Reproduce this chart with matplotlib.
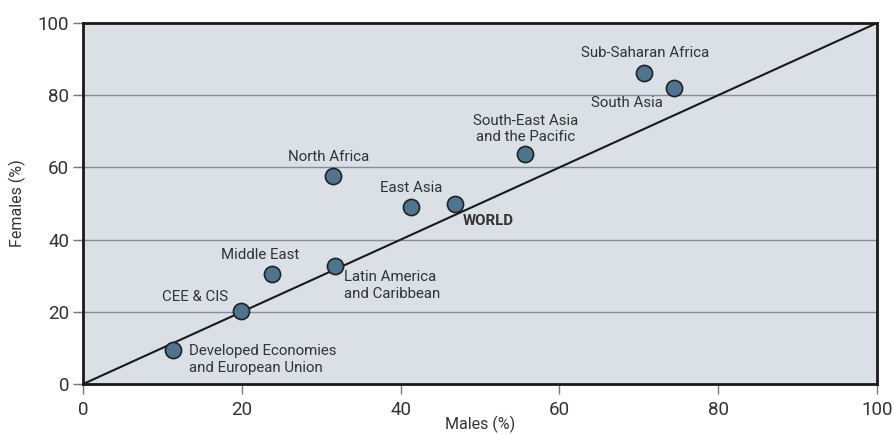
import matplotlib.pyplot as plt

plt.rcParams['font.family'] = ['Roboto', 'DejaVu Sans']

regions = ["Developed Economies\nand European Union", "CEE & CIS", "Middle East",
           "North Africa", "Latin America\nand Caribbean", "East Asia", "WORLD",
           "South-East Asia\nand the Pacific", "Sub-Saharan Africa", "South Asia"]
males = [11.3, 19.9, 23.8, 31.5, 31.7, 41.3, 46.9, 55.7, 70.6, 74.4]
females = [9.5, 20.3, 30.4, 57.6, 32.8, 49.1, 49.9, 63.7, 86.2, 81.9]

# label offsets in pixels and alignment
label_style = [((16, -10), "left"), ((-46, 14), "center"), ((-12, 19), "center"),
               ((-4, 19), "center"), ((9, -20), "left"), ((0, 19), "center"),
               ((33, -17), "center"), ((0, 25), "center"), ((2, 20), "center"),
               ((-47, -15), "center")]

fig = plt.figure(figsize=(8.94, 4.34), dpi=100, facecolor="white")
ax = fig.add_axes([0.0928, 0.115, 0.8882, 0.832])
ax.set_facecolor("#dbdfe6")

ax.plot([0, 100], [0, 100], color="#1a1a1a", lw=1.5, zorder=3)
ax.scatter(males, females, s=135, color="#4d7590", edgecolor="#222222",
           linewidth=1.2, zorder=5)

for name, x, y, (off, ha) in zip(regions, males, females, label_style):
    bold = name == "WORLD"
    ax.annotate(name, (x, y), xytext=off, textcoords="offset pixels",
                ha=ha, va="center", fontsize=10.8, color="#333333",
                fontweight="bold" if bold else "normal", linespacing=1.25,
                zorder=6)

ax.set_xlim(0, 100)
ax.set_ylim(0, 100)
ax.set_xticks(range(0, 101, 20))
ax.set_yticks(range(0, 101, 20))
ax.grid(axis="y", color="#8a8d91", lw=1.0, zorder=1)
ax.set_axisbelow(True)
ax.tick_params(length=7, width=1, color="#777777", labelsize=13.5,
               labelcolor="#333333")
ax.tick_params(axis="x", pad=5)
ax.tick_params(axis="y", pad=3)
for s in ax.spines.values():
    s.set_linewidth(2)
    s.set_color("#1a1a1a")
ax.set_xlabel("Males (%)", fontsize=11.5, color="#333333", labelpad=-2)
ax.set_ylabel("Females (%)", fontsize=11.5, color="#333333", labelpad=8)

plt.savefig("out.png", dpi=100)
plt.close(fig)
